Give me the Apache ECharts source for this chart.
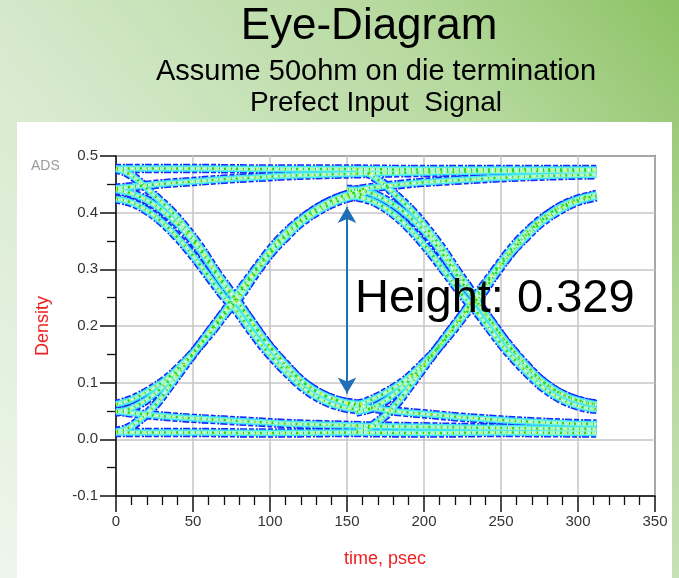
<!DOCTYPE html>
<html>
<head>
<meta charset="utf-8">
<script src="https://cdn.jsdelivr.net/npm/echarts@6/dist/echarts.min.js"></script>
<style>
  html, body { margin: 0; padding: 0; background: #fff; }
  #chart { width: 679px; height: 578px; }
</style>
</head>
<body>
<div id="chart"></div>
<script>
// ---- axes ----
const xTicks = [0, 50, 100, 150, 200, 250, 300, 350];        // time, psec
const yTicks = [-0.1, 0.0, 0.1, 0.2, 0.3, 0.4, 0.5];          // Density

// ---- eye measurement ----
const eyeTime = 150;      // psec, where the opening is measured
const eyeLow = 0.081;     // bottom of the opening
const eyeHeight = 0.329;  // opening height

// ---- traces, [time psec, level] ----
// steady levels across the whole window
const highRun = [[0, 0.478], [50, 0.478], [100, 0.477], [150, 0.477], [200, 0.476], [250, 0.476], [312, 0.476]];
const lowRun  = [[0, 0.012], [50, 0.012], [100, 0.011], [150, 0.012], [200, 0.011], [250, 0.012], [312, 0.011]];

// first unit interval: falling edges
const fallA1 = [[0, 0.477], [6, 0.472], [12, 0.462], [18, 0.448], [25, 0.43], [35, 0.405], [45, 0.374], [55, 0.338], [65, 0.296], [72, 0.27], [80, 0.24], [90, 0.2], [100, 0.163], [112, 0.125], [125, 0.094], [138, 0.074], [150, 0.064], [160, 0.06]];
const fallB1 = [[0, 0.44], [10, 0.434], [20, 0.422], [30, 0.404], [40, 0.38], [50, 0.35], [60, 0.312], [70, 0.272], [78, 0.245], [88, 0.208], [98, 0.17], [110, 0.133], [122, 0.1], [135, 0.078], [148, 0.066], [160, 0.062]];
const fallC1 = [[0, 0.424], [10, 0.418], [20, 0.404], [30, 0.383], [40, 0.356], [50, 0.324], [60, 0.288], [70, 0.252], [78, 0.228], [88, 0.19], [98, 0.155], [110, 0.12], [122, 0.09], [135, 0.068], [148, 0.056], [160, 0.052]];
// first unit interval: rising edges
const riseA1 = [[0, 0.014], [8, 0.02], [18, 0.04], [26, 0.062], [33, 0.087], [44, 0.128], [56, 0.172], [67, 0.212], [78, 0.25], [88, 0.288], [98, 0.322], [110, 0.356], [120, 0.382], [132, 0.404], [144, 0.42], [156, 0.43], [162, 0.434]];
const riseB1 = [[0, 0.062], [10, 0.07], [22, 0.087], [32, 0.105], [42, 0.13], [52, 0.158], [62, 0.19], [72, 0.225], [80, 0.25], [90, 0.29], [100, 0.327], [110, 0.36], [120, 0.386], [132, 0.41], [144, 0.426], [156, 0.436], [162, 0.44]];
const riseC1 = [[0, 0.048], [10, 0.055], [20, 0.07], [30, 0.092], [40, 0.12], [50, 0.152], [60, 0.188], [70, 0.224], [79, 0.258], [90, 0.298], [100, 0.334], [110, 0.364], [122, 0.392], [134, 0.413], [146, 0.428], [158, 0.436]];
// first unit interval: settling after an earlier edge
const settleHigh1 = [[0, 0.443], [15, 0.447], [30, 0.451], [50, 0.455], [70, 0.459], [90, 0.462], [110, 0.465], [130, 0.467], [160, 0.469]];
const settleLow1  = [[0, 0.05], [15, 0.045], [30, 0.041], [50, 0.037], [70, 0.034], [90, 0.031], [110, 0.028], [130, 0.026], [160, 0.024]];

// second unit interval: falling edges
const fallA2 = [[156, 0.477], [162, 0.472], [168, 0.462], [175, 0.448], [182, 0.43], [192, 0.404], [202, 0.372], [212, 0.336], [222, 0.295], [229, 0.268], [236, 0.238], [246, 0.198], [256, 0.162], [268, 0.124], [281, 0.094], [294, 0.074], [306, 0.064], [312, 0.061]];
const fallB2 = [[150, 0.441], [156, 0.44], [166, 0.434], [176, 0.421], [186, 0.403], [196, 0.379], [206, 0.349], [216, 0.311], [226, 0.271], [234, 0.244], [244, 0.207], [254, 0.17], [266, 0.132], [278, 0.1], [291, 0.078], [304, 0.066], [312, 0.062]];
const fallC2 = [[150, 0.43], [156, 0.428], [166, 0.421], [176, 0.406], [186, 0.384], [196, 0.356], [206, 0.323], [216, 0.287], [226, 0.251], [234, 0.226], [244, 0.19], [254, 0.155], [266, 0.12], [278, 0.09], [291, 0.068], [304, 0.056], [312, 0.053]];
// second unit interval: rising edges
const riseA2 = [[156, 0.014], [164, 0.02], [174, 0.04], [182, 0.062], [189, 0.087], [200, 0.128], [212, 0.172], [223, 0.212], [234, 0.25], [244, 0.288], [254, 0.322], [266, 0.356], [276, 0.382], [288, 0.404], [300, 0.42], [312, 0.428]];
const riseB2 = [[150, 0.062], [156, 0.062], [166, 0.07], [178, 0.087], [188, 0.105], [198, 0.13], [208, 0.158], [218, 0.19], [228, 0.225], [236, 0.25], [246, 0.29], [256, 0.327], [266, 0.36], [276, 0.386], [288, 0.41], [300, 0.424], [312, 0.432]];
const riseC2 = [[156, 0.048], [166, 0.055], [176, 0.07], [186, 0.092], [196, 0.12], [206, 0.152], [216, 0.188], [226, 0.224], [235, 0.258], [246, 0.298], [256, 0.334], [266, 0.364], [278, 0.392], [290, 0.412], [302, 0.424], [312, 0.43]];
// second unit interval: settling
const settleHigh2  = [[152, 0.438], [160, 0.442], [175, 0.447], [197, 0.453], [220, 0.457], [245, 0.461], [270, 0.464], [295, 0.466], [312, 0.467]];
const settleHigh2b = [[156, 0.469], [200, 0.471], [250, 0.473], [312, 0.474]];
const settleLow2   = [[150, 0.062], [165, 0.056], [180, 0.05], [200, 0.045], [220, 0.04], [245, 0.035], [270, 0.031], [295, 0.028], [312, 0.027]];
const settleLow2b  = [[156, 0.024], [200, 0.022], [250, 0.02], [312, 0.018]];

const traces = [
  highRun, lowRun,
  settleHigh1, settleLow1, settleHigh2, settleHigh2b, settleLow2, settleLow2b,
  fallA1, fallB1, fallC1, riseA1, riseB1, riseC1,
  fallA2, fallB2, fallC2, riseA2, riseB2, riseC2
];

// density look: broken blue rim, cyan body, pale green core, scattered green / yellow hits
const layers = [
  { color: '#1428ff', width: 9.5, type: [5, 2, 2, 1, 7, 2], z: 2 },
  { color: '#41e6f3', width: 6.5, type: 'solid', z: 3 },
  { color: '#a9f6cf', width: 3.5, type: 'solid', z: 4 },
  { color: '#ffffff', width: 1.5, type: [1, 7], z: 5 },
  { color: '#22d622', width: 2.5, type: [2, 5, 1, 4], z: 6 },
  { color: '#eef02a', width: 2, type: [1, 13], z: 7 }
];

const series = [];
layers.forEach(function (ly) {
  traces.forEach(function (tr) {
    series.push({
      type: 'line',
      data: tr,
      smooth: 0.35,
      showSymbol: false,
      silent: true,
      animation: false,
      z: ly.z,
      lineStyle: { color: ly.color, width: ly.width, type: ly.type, cap: 'butt', join: 'round' }
    });
  });
});

// eye-height arrow
series.push({
  type: 'line',
  data: [],
  z: 10,
  silent: true,
  animation: false,
  markLine: {
    silent: true,
    animation: false,
    symbol: ['arrow', 'arrow'],
    symbolSize: [14, 16],
    label: { show: false },
    lineStyle: { color: '#1e6fb6', width: 2, type: 'solid' },
    data: [[{ coord: [eyeTime, eyeLow] }, { coord: [eyeTime, eyeLow + eyeHeight] }]]
  }
});

const FONT = '"Liberation Sans", Arial, sans-serif';
const chart = echarts.init(document.getElementById('chart'), null, { renderer: 'canvas' });

chart.setOption({
  animation: false,
  graphic: [
    {
      type: 'rect', z: -20, silent: true,
      shape: { x: 0, y: 0, width: 679, height: 578 },
      style: {
        fill: new echarts.graphic.LinearGradient(0, 1, 1, 0, [
          { offset: 0, color: '#eef6ec' },
          { offset: 0.4, color: '#d6e9cd' },
          { offset: 0.75, color: '#b6d99e' },
          { offset: 1, color: '#8cc264' }
        ])
      }
    },
    {
      type: 'rect', z: -19, silent: true,
      shape: { x: 17, y: 122, width: 655, height: 456 },
      style: { fill: '#ffffff' }
    },
    {
      type: 'text', z: 5, silent: true,
      style: { text: 'Eye-Diagram', x: 369, y: 27, textAlign: 'center', textVerticalAlign: 'middle',
               fontSize: 44, fontFamily: FONT, fill: '#000' }
    },
    {
      type: 'text', z: 5, silent: true,
      style: { text: 'Assume 50ohm on die termination', x: 376, y: 72, textAlign: 'center', textVerticalAlign: 'middle',
               fontSize: 29, fontFamily: FONT, fill: '#000' }
    },
    {
      type: 'text', z: 5, silent: true,
      style: { text: 'Prefect Input  Signal', x: 376, y: 103, textAlign: 'center', textVerticalAlign: 'middle',
               fontSize: 28, fontFamily: FONT, fill: '#000' }
    },
    {
      type: 'text', z: 5, silent: true,
      style: { text: 'ADS', x: 31, y: 166, textAlign: 'left', textVerticalAlign: 'middle',
               fontSize: 14, fontFamily: FONT, fill: '#9a9a9a' }
    },
    {
      type: 'text', z: 5, silent: true, x: 43, y: 326, rotation: Math.PI / 2,
      style: { text: 'Density', x: 0, y: 0, textAlign: 'center', textVerticalAlign: 'middle',
               fontSize: 18, fontFamily: FONT, fill: '#f02020' }
    },
    {
      type: 'text', z: 5, silent: true,
      style: { text: 'time, psec', x: 385, y: 559, textAlign: 'center', textVerticalAlign: 'middle',
               fontSize: 18, fontFamily: FONT, fill: '#f02020' }
    },
    {
      type: 'text', z: 50, silent: true,
      style: { text: 'Height: ' + eyeHeight.toFixed(3), x: 355, y: 299, textAlign: 'left', textVerticalAlign: 'middle',
               fontSize: 47, fontFamily: FONT, fill: '#000' }
    }
  ],
  grid: {
    left: 116, right: 24, top: 156, bottom: 82,
    show: true, borderColor: '#111', borderWidth: 1.5, backgroundColor: 'transparent'
  },
  xAxis: {
    type: 'value',
    min: xTicks[0], max: xTicks[xTicks.length - 1], interval: xTicks[1] - xTicks[0],
    axisLine: { onZero: false, lineStyle: { color: '#111', width: 1.5 } },
    axisTick: { inside: false, length: 16, lineStyle: { color: '#111', width: 1.5 } },
    minorTick: { show: true, splitNumber: 5, length: 9, lineStyle: { color: '#111', width: 1.3 } },
    splitLine: { show: true, lineStyle: { color: '#c6c6c6', width: 1.5 } },
    axisLabel: { fontSize: 15, color: '#333', margin: 18, fontFamily: FONT }
  },
  yAxis: {
    type: 'value',
    min: yTicks[0], max: yTicks[yTicks.length - 1], interval: 0.1,
    axisLine: { show: true, onZero: false, lineStyle: { color: '#111', width: 1.5 } },
    axisTick: { show: true, inside: false, length: 16, lineStyle: { color: '#111', width: 1.5 } },
    minorTick: { show: true, splitNumber: 2, length: 9, lineStyle: { color: '#111', width: 1.3 } },
    splitLine: { show: true, lineStyle: { color: '#c6c6c6', width: 1.5 } },
    axisLabel: { fontSize: 15, color: '#333', margin: 18, fontFamily: FONT,
                 formatter: function (v) { return v.toFixed(1); } }
  },
  series: series
});
</script>
</body>
</html>
